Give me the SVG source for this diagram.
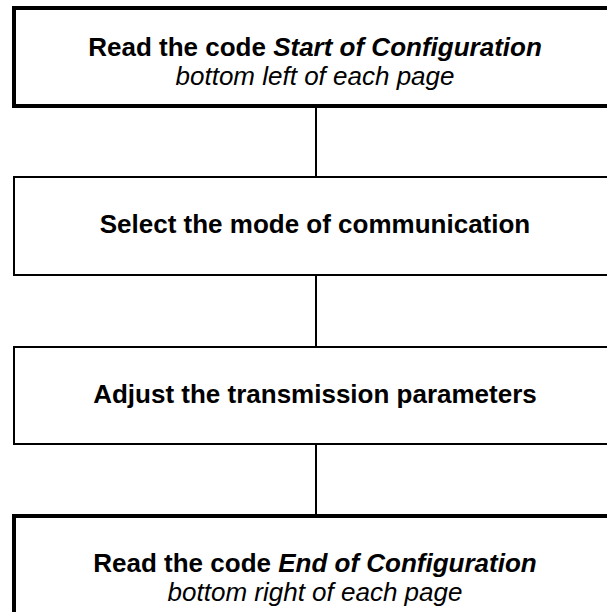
<svg xmlns="http://www.w3.org/2000/svg" width="607" height="612" viewBox="0 0 607 612">
<style>
.box{fill:#fff;stroke:#000}
.thick{stroke-width:4}
.thin{stroke-width:2}
.t{font-family:"Liberation Sans",Arial,sans-serif;font-size:26px;fill:#000;text-anchor:middle}
.b{font-weight:bold}
.i{font-style:italic}
.conn{stroke:#000;stroke-width:2;fill:none}
</style>
<rect width="607" height="612" fill="#fff"/>
<g id="connectors">
<line class="conn" x1="316" y1="106" x2="316" y2="177"/>
<line class="conn" x1="316" y1="275" x2="316" y2="347"/>
<line class="conn" x1="316" y1="444" x2="316" y2="516"/>
</g>
<g id="node1">
<rect class="box thick" x="14" y="8" width="604" height="98"/>
<text class="t b" x="315" y="56">Read the code <tspan class="i">Start of Configuration</tspan></text>
<text class="t i" x="315" y="85">bottom left of each page</text>
</g>
<g id="node2">
<rect class="box thin" x="14" y="177" width="604" height="98"/>
<text class="t b" x="315" y="233">Select the mode of communication</text>
</g>
<g id="node3">
<rect class="box thin" x="14" y="347" width="604" height="97"/>
<text class="t b" x="315" y="403">Adjust the transmission parameters</text>
</g>
<g id="node4">
<rect class="box thick" x="14" y="516" width="604" height="110"/>
<text class="t b" x="315" y="572">Read the code <tspan class="i">End of Configuration</tspan></text>
<text class="t i" x="315" y="601">bottom right of each page</text>
</g>
</svg>
